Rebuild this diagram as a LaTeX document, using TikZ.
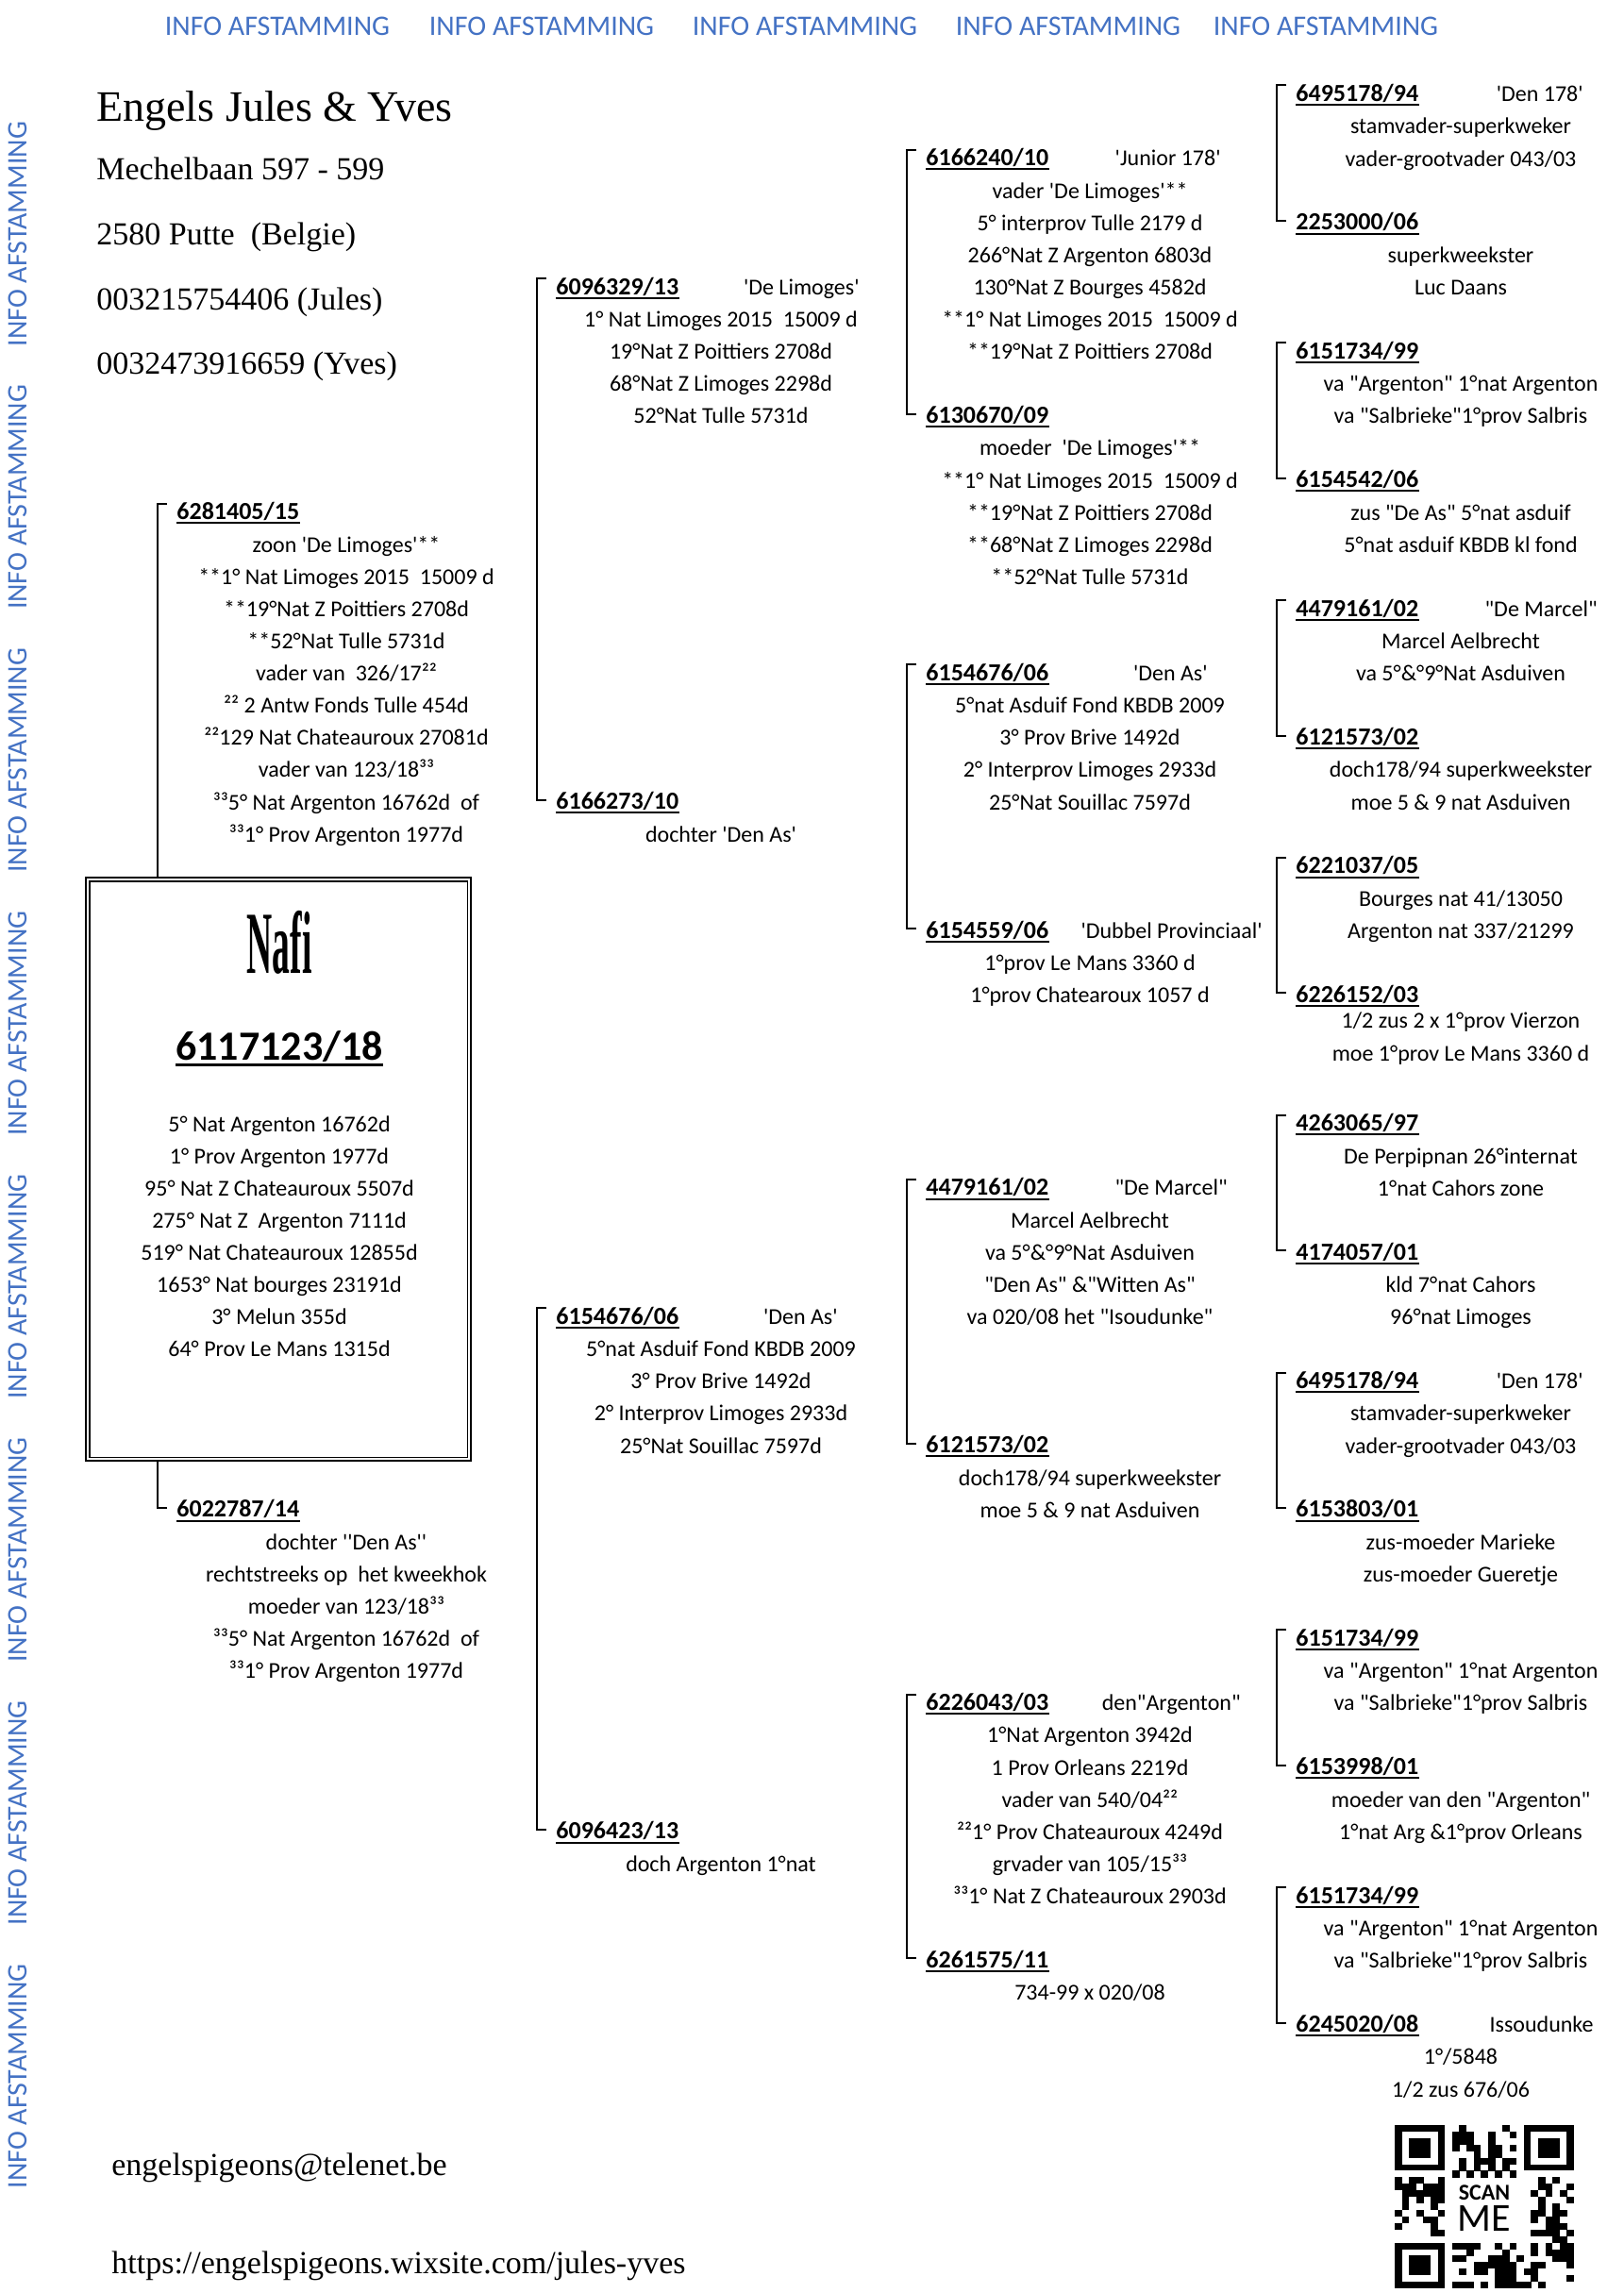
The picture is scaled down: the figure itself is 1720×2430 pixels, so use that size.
\documentclass[tikz,border=0pt]{standalone}
\usepackage{fontspec}
\usepackage{graphicx}
\usetikzlibrary{calc}
\newfontfamily\bodyfont{Carlito}[Ligatures=TeXOff]
\newfontfamily\nafifont{Liberation Serif}
\newfontfamily\headfont{Liberation Serif}
\definecolor{infoblue}{RGB}{68,114,196}
\newcommand\bodyf{\bodyfont\fontsize{12}{17.05}\selectfont}
\newcommand\idf{\bodyfont\bfseries\fontsize{13}{17.05}\selectfont}
\newcommand\RowB[1]{(99+34.1*(#1)+8.5)}
\newcommand\RowN[1]{(99+34.1*(#1)-15.4)}
\tikzset{
  idn/.style={anchor=base west, inner sep=0pt, font=\idf,
    append after command={([yshift=-1.8pt]\tikzlastnode.base west) edge[line width=1pt] ([yshift=-1.8pt]\tikzlastnode.base east)}},
  bigid/.style={anchor=base, inner sep=0pt, font=\bodyfont\bfseries\fontsize{22}{26}\selectfont,
    append after command={([yshift=-2.6pt]\tikzlastnode.base west) edge[line width=1.5pt] ([yshift=-2.6pt]\tikzlastnode.base east)}},
  nick/.style={anchor=base east, inner sep=0pt, font=\bodyf},
  blk/.style={anchor=north, inner sep=0pt, align=center, font=\bodyf},
  brk/.style={line width=1pt},
  info/.style={text=infoblue, inner sep=0pt, font=\bodyfont\fontsize{15}{18}\selectfont},
  head/.style={anchor=base west, inner sep=0pt, font=\headfont\fontsize{17}{20}\selectfont},
}
\begin{document}
\begin{tikzpicture}[x=0.5pt,y=-0.5pt]
\fill[white] (0,0) rectangle (1720,2430);
\useasboundingbox (0,0) rectangle (1720,2430);

% ---- INFO AFSTAMMING borders ----
\foreach \xx [count=\k] in {294,574,853,1132,1405}
  \node[info] (top\k) at (\xx,28) {INFO AFSTAMMING};
\foreach \k in {0,...,7}
  \node[info, rotate=90] (side\k) at (19,{248+278.9*\k}) {INFO AFSTAMMING};

% ---- header ----
\node[anchor=base west, inner sep=0pt, font=\headfont\fontsize{23}{26}\selectfont] (title) at (102,128) {Engels Jules \& Yves};
\node[head] (addr1) at (102,191) {Mechelbaan 597 - 599};
\node[head] (addr2) at (102,259) {2580 Putte\ \ (Belgie)};
\node[head] (addr3) at (102,328) {003215754406 (Jules)};
\node[head] (addr4) at (102,396) {0032473916659 (Yves)};

% ---- footer ----
\node[head] (mail) at (118,2305) {engelspigeons@telenet.be};
\node[head] (web) at (118,2409) {https://engelspigeons.wixsite.com/jules-yves};

% ---- Nafi box ----
\node[draw, line width=1.3pt, minimum width=204pt, minimum height=309pt, inner sep=0pt] (nafi) at (295,1239) {};
\draw[line width=0.8pt] ($(nafi.north west)+(5,5)$) rectangle ($(nafi.south east)+(-5,-5)$);
\node[inner sep=0pt] (nafiname) at (296,999) {\scalebox{0.40}[1]{\nafifont\bfseries\fontsize{47}{50}\selectfont Nafi}};
\node[bigid] (nafiid) at (296,1123) {6117123/18};
\node[blk] (nafitxt) at (296,{\RowN{32}}) {\strut 5° Nat Argenton 16762d\\1° Prov Argenton 1977d\\95° Nat Z Chateauroux 5507d\\275° Nat Z\ \ Argenton 7111d\\519° Nat Chateauroux 12855d\\1653° Nat bourges 23191d\\3° Melun 355d\\64° Prov Le Mans 1315d};

% ---- generation 1 ----
\node[idn] (s1) at (187,{\RowB{13}}) {6281405/15};
\node[blk] (ts1) at (367,{\RowN{14}}) {\strut zoon 'De Limoges'**\\**1° Nat Limoges 2015\ \ 15009 d\\**19°Nat Z Poittiers 2708d\\**52°Nat Tulle 5731d\\vader van\ \ 326/17²²\\²² 2 Antw Fonds Tulle 454d\\²²129 Nat Chateauroux 27081d\\vader van 123/18³³\\³³5° Nat Argenton 16762d\ \ of\\³³1° Prov Argenton 1977d};
\node[idn] (d1) at (187,{\RowB{44}}) {6022787/14};
\node[blk] (td1) at (367,{\RowN{45}}) {\strut dochter ''Den As''\\rechtstreeks op\ \ het kweekhok\\moeder van 123/18³³\\³³5° Nat Argenton 16762d\ \ of\\³³1° Prov Argenton 1977d};
\draw[brk] ($(s1.base west)+(-10,-17)$) -- ++(-10,0) coordinate (g1top) -- (g1top |- nafi.north);
\draw[brk] ($(d1.base west)+(-10,-10)$) -- ++(-10,0) coordinate (g1bot) -- (g1bot |- nafi.south);

% ---- generation 2 ----
\node[idn] (f1) at (589,{\RowB{6}}) {6096329/13};
\node[nick] (nf1) at (911,{\RowB{6}}) {'De Limoges'};
\node[blk] (tf1) at (764,{\RowN{7}}) {\strut 1° Nat Limoges 2015\ \ 15009 d\\19°Nat Z Poittiers 2708d\\68°Nat Z Limoges 2298d\\52°Nat Tulle 5731d};
\node[idn] (f2) at (589,{\RowB{22}}) {6166273/10};
\node[blk] (tf2) at (764,{\RowN{23}}) {\strut dochter 'Den As'};
\node[idn] (f3) at (589,{\RowB{38}}) {6154676/06};
\node[nick] (nf3) at (888,{\RowB{38}}) {'Den As'};
\node[blk] (tf3) at (764,{\RowN{39}}) {\strut 5°nat Asduif Fond KBDB 2009\\3° Prov Brive 1492d\\2° Interprov Limoges 2933d\\25°Nat Souillac 7597d};
\node[idn] (f4) at (589,{\RowB{54}}) {6096423/13};
\node[blk] (tf4) at (764,{\RowN{55}}) {\strut doch Argenton 1°nat};

% ---- generation 3 ----
\node[idn] (g1) at (981,{\RowB{2}}) {6166240/10};
\node[nick] (ng1) at (1294,{\RowB{2}}) {'Junior 178'};
\node[blk] (tg1) at (1155,{\RowN{3}}) {\strut vader 'De Limoges'**\\5° interprov Tulle 2179 d\\266°Nat Z Argenton 6803d\\130°Nat Z Bourges 4582d\\**1° Nat Limoges 2015\ \ 15009 d\\**19°Nat Z Poittiers 2708d};
\node[idn] (g2) at (981,{\RowB{10}}) {6130670/09};
\node[blk] (tg2) at (1155,{\RowN{11}}) {\strut moeder\ \ 'De Limoges'**\\**1° Nat Limoges 2015\ \ 15009 d\\**19°Nat Z Poittiers 2708d\\**68°Nat Z Limoges 2298d\\**52°Nat Tulle 5731d};
\node[idn] (g3) at (981,{\RowB{18}}) {6154676/06};
\node[nick] (ng3) at (1280,{\RowB{18}}) {'Den As'};
\node[blk] (tg3) at (1155,{\RowN{19}}) {\strut 5°nat Asduif Fond KBDB 2009\\3° Prov Brive 1492d\\2° Interprov Limoges 2933d\\25°Nat Souillac 7597d};
\node[idn] (g4) at (981,{\RowB{26}}) {6154559/06};
\node[nick] (ng4) at (1338,{\RowB{26}}) {'Dubbel Provinciaal'};
\node[blk] (tg4) at (1155,{\RowN{27}}) {\strut 1°prov Le Mans 3360 d\\1°prov Chatearoux 1057 d};
\node[idn] (g5) at (981,{\RowB{34}}) {4479161/02};
\node[nick] (ng5) at (1301,{\RowB{34}}) {"De Marcel"};
\node[blk] (tg5) at (1155,{\RowN{35}}) {\strut Marcel Aelbrecht\\va 5°\&°9°Nat Asduiven\\"Den As" \&"Witten As"\\va 020/08 het "Isoudunke"};
\node[idn] (g6) at (981,{\RowB{42}}) {6121573/02};
\node[blk] (tg6) at (1155,{\RowN{43}}) {\strut doch178/94 superkweekster\\moe 5 \& 9 nat Asduiven};
\node[idn] (g7) at (981,{\RowB{50}}) {6226043/03};
\node[nick] (ng7) at (1315,{\RowB{50}}) {den"Argenton"};
\node[blk] (tg7) at (1155,{\RowN{51}}) {\strut 1°Nat Argenton 3942d\\1 Prov Orleans 2219d\\vader van 540/04²²\\²²1° Prov Chateauroux 4249d\\grvader van 105/15³³\\³³1° Nat Z Chateauroux 2903d};
\node[idn] (g8) at (981,{\RowB{58}}) {6261575/11};
\node[blk] (tg8) at (1155,{\RowN{59}}) {\strut 734-99 x 020/08};

% ---- generation 4 ----
\node[idn] (p1) at (1373,{\RowB{0}}) {6495178/94};
\node[nick] (np1) at (1678,{\RowB{0}}) {'Den 178'};
\node[blk] (tp1) at (1548,{\RowN{1}}) {\strut stamvader-superkweker\\vader-grootvader 043/03};
\node[idn] (p2) at (1373,{\RowB{4}}) {2253000/06};
\node[blk] (tp2) at (1548,{\RowN{5}}) {\strut superkweekster\\Luc Daans};
\node[idn] (p3) at (1373,{\RowB{8}}) {6151734/99};
\node[blk] (tp3) at (1548,{\RowN{9}}) {\strut va "Argenton" 1°nat Argenton\\va "Salbrieke"1°prov Salbris};
\node[idn] (p4) at (1373,{\RowB{12}}) {6154542/06};
\node[blk] (tp4) at (1548,{\RowN{13}}) {\strut zus "De As" 5°nat asduif\\5°nat asduif KBDB kl fond};
\node[idn] (p5) at (1373,{\RowB{16}}) {4479161/02};
\node[nick] (np5) at (1693,{\RowB{16}}) {"De Marcel"};
\node[blk] (tp5) at (1548,{\RowN{17}}) {\strut Marcel Aelbrecht\\va 5°\&°9°Nat Asduiven};
\node[idn] (p6) at (1373,{\RowB{20}}) {6121573/02};
\node[blk] (tp6) at (1548,{\RowN{21}}) {\strut doch178/94 superkweekster\\moe 5 \& 9 nat Asduiven};
\node[idn] (p7) at (1373,{\RowB{24}}) {6221037/05};
\node[blk] (tp7) at (1548,{\RowN{25}}) {\strut Bourges nat 41/13050\\Argenton nat 337/21299};
\node[idn] (p8) at (1373,{\RowB{28}}) {6226152/03};
\node[blk] (tp8) at (1548,{\RowN{28.8}}) {\strut 1/2 zus 2 x 1°prov Vierzon\\moe 1°prov Le Mans 3360 d};
\node[idn] (p9) at (1373,{\RowB{32}}) {4263065/97};
\node[blk] (tp9) at (1548,{\RowN{33}}) {\strut De Perpipnan 26°internat\\1°nat Cahors zone};
\node[idn] (p10) at (1373,{\RowB{36}}) {4174057/01};
\node[blk] (tp10) at (1548,{\RowN{37}}) {\strut kld 7°nat Cahors\\96°nat Limoges};
\node[idn] (p11) at (1373,{\RowB{40}}) {6495178/94};
\node[nick] (np11) at (1678,{\RowB{40}}) {'Den 178'};
\node[blk] (tp11) at (1548,{\RowN{41}}) {\strut stamvader-superkweker\\vader-grootvader 043/03};
\node[idn] (p12) at (1373,{\RowB{44}}) {6153803/01};
\node[blk] (tp12) at (1548,{\RowN{45}}) {\strut zus-moeder Marieke\\zus-moeder Gueretje};
\node[idn] (p13) at (1373,{\RowB{48}}) {6151734/99};
\node[blk] (tp13) at (1548,{\RowN{49}}) {\strut va "Argenton" 1°nat Argenton\\va "Salbrieke"1°prov Salbris};
\node[idn] (p14) at (1373,{\RowB{52}}) {6153998/01};
\node[blk] (tp14) at (1548,{\RowN{53}}) {\strut moeder van den "Argenton"\\1°nat Arg \&1°prov Orleans};
\node[idn] (p15) at (1373,{\RowB{56}}) {6151734/99};
\node[blk] (tp15) at (1548,{\RowN{57}}) {\strut va "Argenton" 1°nat Argenton\\va "Salbrieke"1°prov Salbris};
\node[idn] (p16) at (1373,{\RowB{60}}) {6245020/08};
\node[nick] (np16) at (1689,{\RowB{60}}) {Issoudunke};
\node[blk] (tp16) at (1548,{\RowN{61}}) {\strut 1°/5848\\1/2 zus 676/06};

% ---- brackets ----
\foreach \a/\b in {f1/f2,f3/f4,g1/g2,g3/g4,g5/g6,g7/g8,p1/p2,p3/p4,p5/p6,p7/p8,p9/p10,p11/p12,p13/p14,p15/p16}
  \draw[brk] ($(\a.base west)+(-10,-17)$) -- ++(-10,0) |- ($(\b.base west)+(-10,-10)$);

% ---- QR code ----
\begin{scope}[shift={(1478,2252)}, x=3.8pt, y=-3.46pt]
  \pgfmathsetseed{2024}
  \foreach \i in {0,...,24}{
    \foreach \j in {0,...,24}{
      \pgfmathtruncatemacro\qs{or(or(and(\i<8,\j<8),and(\i>16,\j<8)),or(and(\i<8,\j>16),and(and(\i>6,\i<19),and(\j>7,\j<18))))}
      \pgfmathtruncatemacro\qb{rnd<0.5}
      \ifnum\qs=0 \ifnum\qb=1 \fill (\i,\j) rectangle ++(1.02,1.02); \fi\fi
    }
  }
  \foreach \a/\b in {0/0,18/0,0/18}{
    \fill (\a,\b) rectangle ++(7,7);
    \fill[white] (\a+1,\b+1) rectangle ++(5,5);
    \fill (\a+2,\b+2) rectangle ++(3,3);
  }
  \node[inner sep=0pt, font=\bodyfont\bfseries\fontsize{12}{14}\selectfont] (qrscan) at (12.5,10.4) {SCAN};
  \node[inner sep=0pt, font=\bodyfont\fontsize{21}{24}\selectfont] (qrme) at (12.5,14.3) {ME};
\end{scope}
\end{tikzpicture}
\end{document}
